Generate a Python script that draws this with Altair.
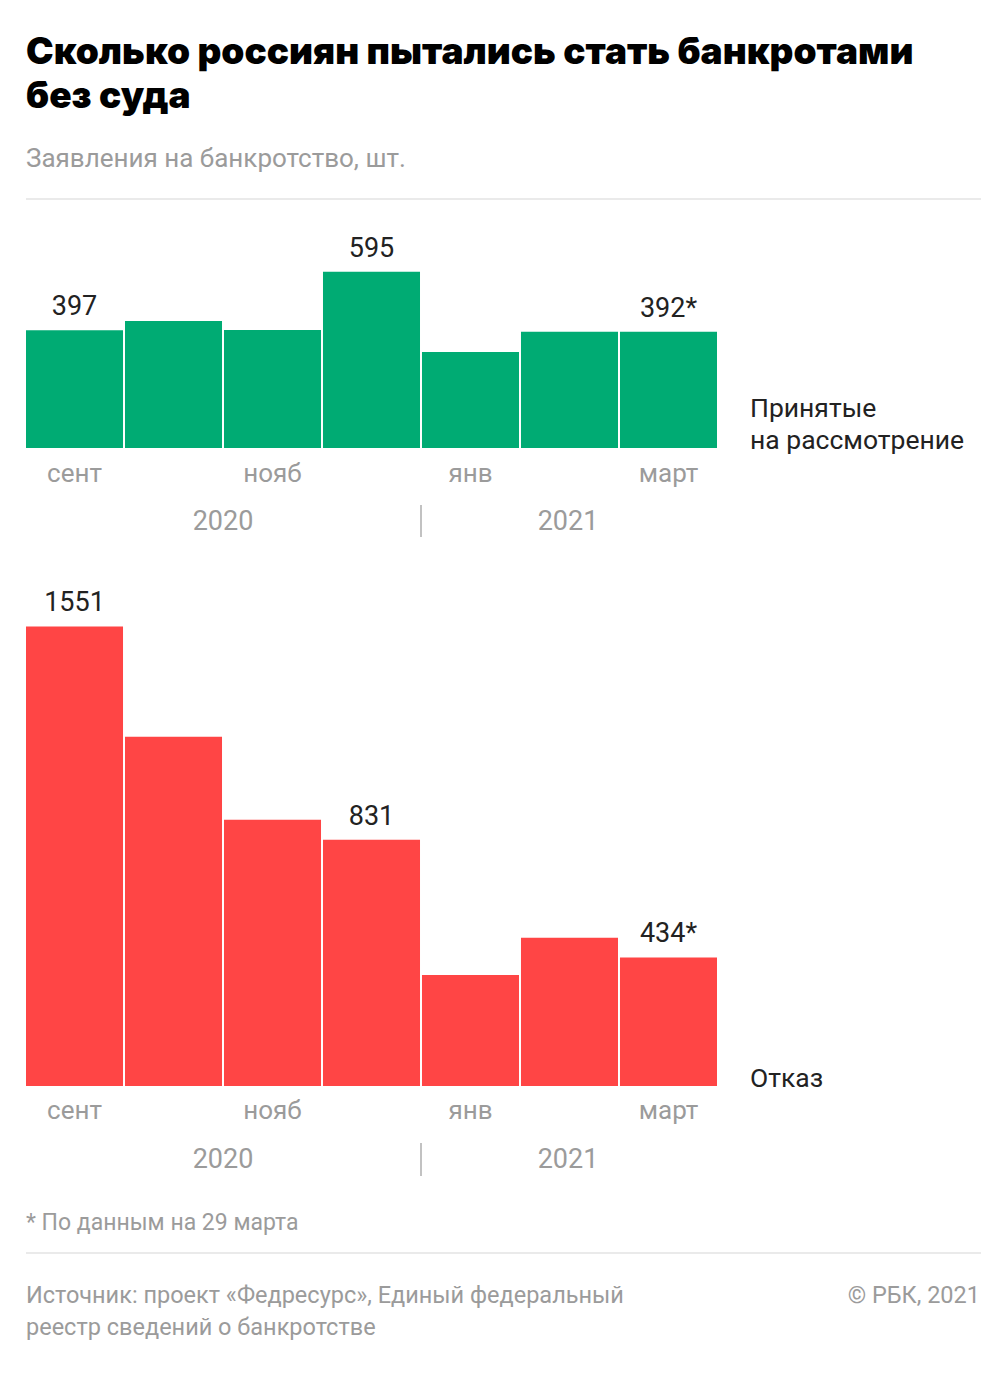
import altair as alt
import pandas as pd

# ---- data ----
months = ["сен", "окт", "ноя", "дек", "янв", "фев", "мар"]
month_labels = ["сент", "", "нояб", "", "янв", "", "март"]
accepted = [397, 429, 398, 595, 324, 392, 392]
rejected = [1551, 1179, 899, 831, 375, 500, 434]
accepted_labels = ["397", "", "", "595", "", "", "392*"]
rejected_labels = ["1551", "", "", "831", "", "", "434*"]
years = ["2020", "2021"]

title_lines = ["Сколько россиян пытались стать банкротами", "без суда"]
subtitle = "Заявления на банкротство, шт."
series_top = ["Принятые", "на рассмотрение"]
series_bottom = "Отказ"
footnote = "* По данным на 29 марта"
source_lines = ["Источник: проект «Федресурс», Единый федеральный", "реестр сведений о банкротстве"]
copyright_txt = "© РБК, 2021"

GREEN = "#00AB73"
RED = "#FF4545"
GREY = "#9b9b9b"
DARK = "#222222"
FONT = "Roboto"

df = pd.DataFrame({
    "month": months,
    "mlabel": month_labels,
    "accepted": accepted,
    "rejected": rejected,
    "alabel": accepted_labels,
    "rlabel": rejected_labels,
})

W, H = 989, 1361


def P(v):
    return v - 8


x_enc = alt.X("month:N", sort=months, axis=None,
              scale=alt.Scale(domain=months, range=[P(26), P(717)],
                              paddingInner=0.02, paddingOuter=0))

PXU = 0.2963  # pixels per unit, same for both panels


def panel(field, label_field, color, base_page):
    base = P(base_page)
    ysc = alt.Scale(domain=[0, 1000], range=[base, base - 1000 * PXU], nice=False, zero=True)
    bars = alt.Chart(df).mark_bar(color=color, stroke=None).encode(
        x=x_enc, y=alt.Y(f"{field}:Q", scale=ysc, axis=None))
    vals = alt.Chart(df).mark_text(font=FONT, fontSize=27, color=DARK, baseline="alphabetic",
                                   align="center", dy=-15).encode(
        x=x_enc, y=alt.Y(f"{field}:Q", scale=ysc, axis=None), text=f"{label_field}:N")
    return alt.layer(bars, vals)


def month_text(y_page):
    return alt.Chart(df).mark_text(font=FONT, fontSize=26, color=GREY, baseline="alphabetic",
                                   align="center").encode(
        x=x_enc, y=alt.value(P(y_page)), text="mlabel:N")


one = pd.DataFrame({"a": [0]})


def txt(text, x, y, size, color, weight="normal", align="left", font=FONT, lh=None):
    kw = dict(text=text, font=font, fontSize=size, color=color, fontWeight=weight,
              align=align, baseline="alphabetic")
    if lh is not None:
        kw["lineHeight"] = lh
    return alt.Chart(one).mark_text(**kw).encode(x=alt.value(P(x)), y=alt.value(P(y)))


def rule(x1, x2, y1, y2, color, w):
    return alt.Chart(one).mark_rule(color=color, strokeWidth=w).encode(
        x=alt.value(P(x1)), x2=alt.value(P(x2)), y=alt.value(P(y1)), y2=alt.value(P(y2)))


top = panel("accepted", "alabel", GREEN, 448)
bottom = panel("rejected", "rlabel", RED, 1086)

annots = [
    txt(title_lines, 26, 64, 37, "#000000", weight=900, font="Inter", lh=44),
    txt(subtitle, 26, 167, 26, GREY),
    rule(26, 981, 199, 199, "#e3e3e3", 1.5),
    month_text(482),
    txt(years[0], 223, 530, 27, GREY, align="center"),
    txt(years[1], 568, 530, 27, GREY, align="center"),
    rule(421, 421, 505, 537, "#999999", 1.2),
    txt(series_top, 750, 417, 26.5, DARK, lh=32),
    month_text(1119),
    txt(years[0], 223, 1168, 27, GREY, align="center"),
    txt(years[1], 568, 1168, 27, GREY, align="center"),
    rule(421, 421, 1143, 1176, "#999999", 1.2),
    txt(series_bottom, 750, 1087, 26.5, DARK),
    txt(footnote, 26, 1230, 23, GREY),
    rule(26, 981, 1253, 1253, "#e3e3e3", 1.5),
    txt(source_lines, 26, 1303, 23.5, GREY, lh=32),
    txt(copyright_txt, 980, 1303, 23.5, GREY, align="right"),
]

chart = alt.layer(top, bottom, *annots).resolve_scale(y="independent").properties(
    width=W, height=H, padding=0,
    autosize=alt.AutoSizeParams(type="none"),
    background="white",
).configure_view(stroke=None)

chart.save("out.html", embed_options={"renderer": "svg", "actions": False})
